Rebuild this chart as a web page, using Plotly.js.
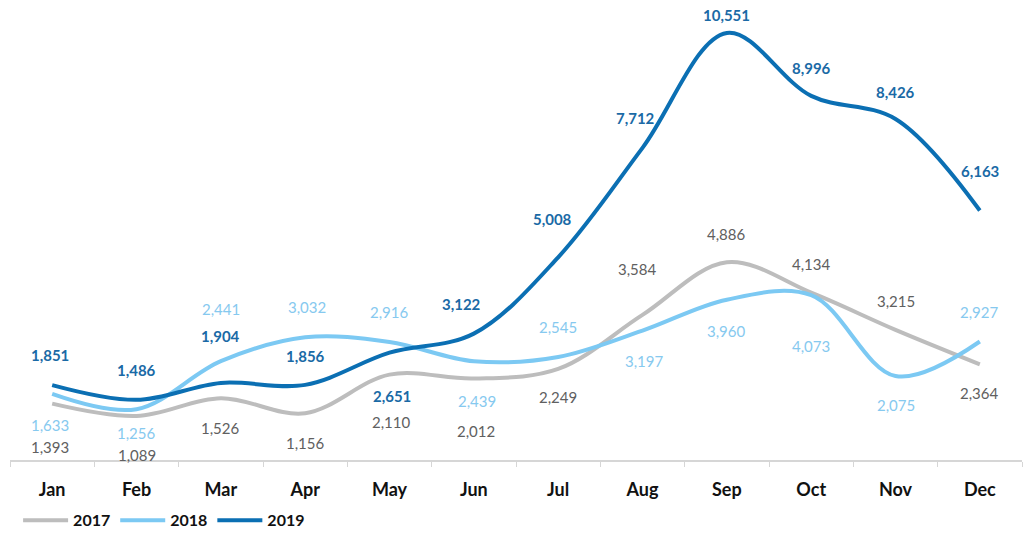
<!DOCTYPE html>
<html>
<head>
<meta charset="utf-8">
<script src="https://cdn.plot.ly/plotly-3.0.1.min.js"></script>
<style>html,body{margin:0;padding:0;background:#fff;}#chart{width:1025px;height:540px;}</style>
</head>
<body>
<div id="chart"></div>
<script>
const months = ['Jan','Feb','Mar','Apr','May','Jun','Jul','Aug','Sep','Oct','Nov','Dec'];
const v2017 = [1393, 1089, 1526, 1156, 2110, 2012, 2249, 3584, 4886, 4134, 3215, 2364];
const v2018 = [1633, 1256, 2441, 3032, 2916, 2439, 2545, 3197, 3960, 4073, 2075, 2927];
const v2019 = [1851, 1486, 1904, 1856, 2651, 3122, 5008, 7712, 10551, 8996, 8426, 6163];
const seriesNames = ['2017', '2018', '2019'];

// label placement (style only)
const shiftY = {
  '2017': [-43,-39,-30,-30,-47,-52,-28,46,28,29,29,-29],
  '2018': [-31,-24,52,30,30,-40,30,-30,-31,-51,-29,30],
  '2019': [30,30,47,29,-43,30,38,30,18,28,27,40]
};
const shiftX = {
  '2017': [-2,0,0,0,2,2,0,-5,0,0,0,0],
  '2018': [-2,0,0,2,0,3,0,2,0,0,0,0],
  '2019': [-2,0,0,0,2,-12,-6,-7,0,0,0,0]
};
const lineColors = {'2017':'#bdbdbd','2018':'#7cc9f3','2019':'#0b6fb3'};
const labelColors = {'2017':'#606060','2018':'#86c9ef','2019':'#1a6aa6'};
const labelWeights = {'2017':400,'2018':400,'2019':700};

const seriesVals = {'2017': v2017, '2018': v2018, '2019': v2019};

const traces = seriesNames.map(n => ({
  type: 'scatter',
  mode: 'lines',
  name: n,
  x: months,
  y: seriesVals[n],
  line: {color: lineColors[n], width: 4, shape: 'spline', smoothing: 1},
  hoverinfo: 'skip'
}));

const annotations = [];
seriesNames.forEach(n => {
  seriesVals[n].forEach((v, i) => {
    annotations.push({
      x: months[i], y: v, xref: 'x', yref: 'y',
      text: v.toLocaleString('en-US'),
      showarrow: false,
      yshift: shiftY[n][i], xshift: shiftX[n][i],
      font: {family: 'Lato, sans-serif', size: 15, color: labelColors[n], weight: labelWeights[n]}
    });
  });
});

const layout = {
  width: 1025, height: 540,
  margin: {l: 10, r: 3, t: 10, b: 78},
  paper_bgcolor: '#ffffff', plot_bgcolor: '#ffffff',
  showlegend: true,
  legend: {
    orientation: 'h', x: 0.008, xanchor: 'left', y: -0.134, yanchor: 'middle',
    font: {family: 'Lato, sans-serif', size: 16, color: '#111', weight: 700},
    itemwidth: 45, tracegroupgap: 0, bgcolor: 'rgba(0,0,0,0)'
  },
  xaxis: {
    type: 'category', range: [-0.5, 11.5], automargin: false,
    showgrid: false, zeroline: false,
    showline: true, linecolor: '#d6d6d6', linewidth: 2,
    ticks: 'outside', tickson: 'boundaries', ticklen: 5, tickcolor: '#d6d6d6', tickwidth: 1,
    ticklabelstandoff: 12,
    tickfont: {family: 'Lato, sans-serif', size: 18, color: '#111', weight: 700}
  },
  yaxis: {
    range: [0, 11117], visible: false, showgrid: false, zeroline: false
  },
  annotations: annotations
};

Plotly.newPlot('chart', traces, layout, {displayModeBar: false, staticPlot: true});
</script>
</body>
</html>
